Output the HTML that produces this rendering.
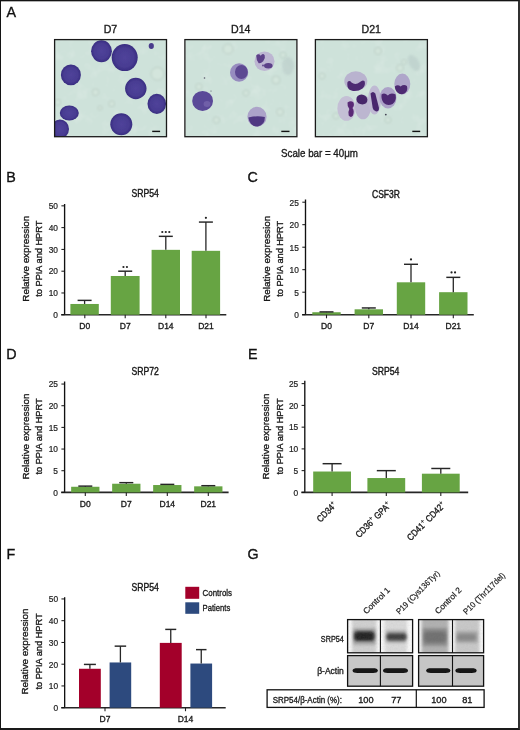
<!DOCTYPE html>
<html><head><meta charset="utf-8"><style>
html,body{margin:0;padding:0;background:#fff;}
body{width:520px;height:730px;overflow:hidden;position:relative;}
svg{position:absolute;left:0;top:0;will-change:transform;}
text{font-family:"Liberation Sans",sans-serif;}
.frame{position:absolute;left:0;top:0;width:520px;height:730px;box-sizing:border-box;border-top:1px solid #141414;border-left:1px solid #141414;border-right:2px solid #303030;border-bottom:2px solid #1a1a1a;}
</style></head><body>
<svg width="520" height="730" viewBox="0 0 520 730">
<text x="6.5" y="16.5" font-size="14.3" text-anchor="start" fill="#111" stroke="#111" stroke-width="0.34" >A</text>
<text x="6.3" y="181.6" font-size="14.3" text-anchor="start" fill="#111" stroke="#111" stroke-width="0.34" >B</text>
<text x="247.5" y="181.7" font-size="14.3" text-anchor="start" fill="#111" stroke="#111" stroke-width="0.34" >C</text>
<text x="6.2" y="358.8" font-size="14.3" text-anchor="start" fill="#111" stroke="#111" stroke-width="0.34" >D</text>
<text x="248" y="359.0" font-size="14.3" text-anchor="start" fill="#111" stroke="#111" stroke-width="0.34" >E</text>
<text x="6.5" y="558.9" font-size="14.3" text-anchor="start" fill="#111" stroke="#111" stroke-width="0.34" >F</text>
<text x="247.5" y="559.0" font-size="14.3" text-anchor="start" fill="#111" stroke="#111" stroke-width="0.34" >G</text>
<text x="110.5" y="32.7" font-size="10.6" text-anchor="middle" fill="#1a1a1a" stroke="#1a1a1a" stroke-width="0.34" >D7</text>
<text x="240.8" y="32.7" font-size="10.6" text-anchor="middle" fill="#1a1a1a" stroke="#1a1a1a" stroke-width="0.34" >D14</text>
<text x="371.3" y="32.7" font-size="10.6" text-anchor="middle" fill="#1a1a1a" stroke="#1a1a1a" stroke-width="0.34" >D21</text>
<text x="319.5" y="157" font-size="10.6" text-anchor="middle" fill="#1a1a1a" stroke="#1a1a1a" stroke-width="0.34" textLength="77" lengthAdjust="spacingAndGlyphs" >Scale bar = 40&#956;m</text>

<defs>
<filter id="soft" x="-20%" y="-20%" width="140%" height="140%"><feGaussianBlur stdDeviation="0.6"/></filter>
<filter id="soft2" x="-20%" y="-20%" width="140%" height="140%"><feGaussianBlur stdDeviation="1.1"/></filter>
<radialGradient id="cellD" cx="50%" cy="50%" r="50%">
 <stop offset="0" stop-color="#50439a"/><stop offset="0.7" stop-color="#483c92"/><stop offset="0.92" stop-color="#3d3186"/><stop offset="1" stop-color="#372b7e"/>
</radialGradient>
<radialGradient id="cyto" cx="50%" cy="50%" r="50%">
 <stop offset="0" stop-color="#aa9dca"/><stop offset="0.8" stop-color="#a091c4"/><stop offset="1" stop-color="#8f7fb8"/>
</radialGradient>
<radialGradient id="ghost" cx="50%" cy="50%" r="50%">
 <stop offset="0" stop-color="#bccfc6"/><stop offset="0.55" stop-color="#c6d9d0"/><stop offset="0.8" stop-color="#b8cbc3"/><stop offset="1" stop-color="#cee2da" stop-opacity="0"/>
</radialGradient>
<filter id="tex" x="0" y="0" width="100%" height="100%"><feTurbulence type="fractalNoise" baseFrequency="0.08" numOctaves="3" seed="7"/><feColorMatrix type="matrix" values="0 0 0 0 1  0 0 0 0 1  0 0 0 0 1  0 0 0 1.1 -0.55"/><feComposite in2="SourceGraphic" operator="in"/></filter>
<clipPath id="c1"><rect x="55" y="40" width="111.5" height="96.5"/></clipPath>
<clipPath id="c2"><rect x="185.3" y="40" width="111.2" height="96.5"/></clipPath>
<clipPath id="c3"><rect x="315.8" y="40" width="111.2" height="96.5"/></clipPath>
</defs>

<g clip-path="url(#c1)">
<rect x="55" y="40" width="111.5" height="96.5" fill="#cee2da" />
<rect x="55" y="40" width="111.5" height="96.5" fill="#fff" filter="url(#tex)" opacity="0.35"/>
<circle cx="95.5" cy="92.3" r="3.4" fill="#d3e5dc" stroke="#bacdc4" stroke-width="1" filter="url(#soft2)"/>
<circle cx="57.8" cy="102.3" r="3" fill="#d3e5dc" stroke="#bacdc4" stroke-width="1" filter="url(#soft2)"/>
<circle cx="157.5" cy="73.8" r="6.5" fill="#d3e5dc" stroke="#bacdc4" stroke-width="1" filter="url(#soft2)"/>
<circle cx="111.7" cy="103.8" r="3" fill="#d3e5dc" stroke="#bacdc4" stroke-width="1" filter="url(#soft2)"/>
<circle cx="100" cy="108" r="2.2" fill="#d3e5dc" stroke="#bacdc4" stroke-width="1" filter="url(#soft2)"/>
<g filter="url(#soft)">
<ellipse cx="101.5" cy="51.2" rx="10.4" ry="11" fill="url(#cellD)"/>
<ellipse cx="124.7" cy="57.6" rx="13" ry="13.5" fill="url(#cellD)"/>
<ellipse cx="70.9" cy="74.9" rx="10" ry="10.3" fill="url(#cellD)"/>
<ellipse cx="135.8" cy="88.5" rx="10.7" ry="10.7" fill="url(#cellD)"/>
<ellipse cx="156.8" cy="103.8" rx="9.3" ry="10.1" fill="url(#cellD)"/>
<ellipse cx="69.3" cy="113" rx="9.5" ry="7.6" fill="url(#cellD)"/>
<ellipse cx="60" cy="129" rx="9" ry="9.5" fill="url(#cellD)"/>
<ellipse cx="121.3" cy="124.3" rx="11" ry="11" fill="url(#cellD)"/>
<ellipse cx="151.3" cy="46" rx="2.6" ry="2.9" fill="#4a3a8c"/>
</g>
<rect x="152.2" y="130.7" width="7.9" height="1.4" fill="#111" />
</g>
<rect x="54.6" y="39.6" width="111.9" height="97.1" fill="none" stroke="#1a1a1a" stroke-width="1.3"/>
<g clip-path="url(#c2)">
<rect x="185.3" y="40" width="111.2" height="96.5" fill="#cee2da" />
<rect x="185.3" y="40" width="111.2" height="96.5" fill="#fff" filter="url(#tex)" opacity="0.35"/>
<circle cx="198.9" cy="86.7" r="3.2" fill="#d3e5dc" stroke="#bacdc4" stroke-width="1" filter="url(#soft2)"/>
<circle cx="216.4" cy="120.1" r="3.2" fill="#d3e5dc" stroke="#bacdc4" stroke-width="1" filter="url(#soft2)"/>
<circle cx="246" cy="93" r="3" fill="#d3e5dc" stroke="#bacdc4" stroke-width="1" filter="url(#soft2)"/>
<circle cx="276" cy="80" r="4" fill="#d3e5dc" stroke="#bacdc4" stroke-width="1" filter="url(#soft2)"/>
<circle cx="280" cy="112" r="3.5" fill="#d3e5dc" stroke="#bacdc4" stroke-width="1" filter="url(#soft2)"/>
<circle cx="228" cy="49" r="5" fill="#d3e5dc" stroke="#bacdc4" stroke-width="1" filter="url(#soft2)"/>
<circle cx="283" cy="55" r="3" fill="#d3e5dc" stroke="#bacdc4" stroke-width="1" filter="url(#soft2)"/>
<ellipse cx="288" cy="66" rx="6" ry="9" fill="#bccfcb" opacity="0.7" filter="url(#soft2)"/>
<g filter="url(#soft)">
<ellipse cx="239.1" cy="72.5" rx="9.1" ry="9.3" fill="#978cbf"/>
<ellipse cx="241.4" cy="72.0" rx="6.4" ry="6.9" fill="#5d4892"/>
<ellipse cx="264.5" cy="61.2" rx="10" ry="9.8" fill="#bdb6d2"/>
<path d="M256.2 55.5 q2.5 -2.5 4.5 0.2 q2 -3 4 -0.5 q1 3 -1.5 6 q-2.5 2.5 -4.5 2 q-2.5 -3 -2.5 -7.7 z" fill="#5b3f88"/>
<ellipse cx="268.3" cy="65.8" rx="4.3" ry="2.7" fill="#5b3f88"/>
<circle cx="263" cy="65.5" r="0.9" fill="#5b3f88"/>
<ellipse cx="202.6" cy="100.9" rx="10.4" ry="10" fill="#5a4898"/>
<ellipse cx="207" cy="104" rx="3.5" ry="3" fill="#7464ac" opacity="0.8"/>
<ellipse cx="257" cy="116.7" rx="9.6" ry="10" fill="#aca3c9"/>
<path d="M248.3 117.5 q8 -2 16.6 -0.5 q0 8 -7 9.5 q-8 0.5 -9.6 -9 z" fill="#4f3782"/>
</g>
<circle cx="204.5" cy="78" r="0.8" fill="#556"/><circle cx="211" cy="91" r="0.6" fill="#556"/>
<rect x="281.3" y="130.7" width="8.2" height="1.4" fill="#111" />
</g>
<rect x="184.9" y="39.6" width="112" height="97.1" fill="none" stroke="#1a1a1a" stroke-width="1.3"/>
<g clip-path="url(#c3)">
<rect x="315.8" y="40" width="111.2" height="96.5" fill="#cee2da" />
<rect x="315.8" y="40" width="111.2" height="96.5" fill="#fff" filter="url(#tex)" opacity="0.35"/>
<circle cx="322" cy="76" r="3" fill="#d3e5dc" stroke="#bacdc4" stroke-width="1" filter="url(#soft2)"/>
<circle cx="378" cy="51" r="3.5" fill="#d3e5dc" stroke="#bacdc4" stroke-width="1" filter="url(#soft2)"/>
<circle cx="400" cy="68" r="3.5" fill="#d3e5dc" stroke="#bacdc4" stroke-width="1" filter="url(#soft2)"/>
<circle cx="336" cy="116" r="3" fill="#d3e5dc" stroke="#bacdc4" stroke-width="1" filter="url(#soft2)"/>
<circle cx="388" cy="120" r="3" fill="#d3e5dc" stroke="#bacdc4" stroke-width="1" filter="url(#soft2)"/>
<circle cx="404" cy="62" r="2.5" fill="#d3e5dc" stroke="#bacdc4" stroke-width="1" filter="url(#soft2)"/>
<ellipse cx="414" cy="63" rx="5" ry="9" fill="#bccfcb" opacity="0.7" filter="url(#soft2)" transform="rotate(-30 414 63)"/>
<g filter="url(#soft)">
<ellipse cx="355.8" cy="81" rx="11.5" ry="9.7" fill="#b9b3cf"/>
<ellipse cx="402.3" cy="84" rx="8" ry="10.4" fill="#afa6ca"/>
<ellipse cx="346.5" cy="108.4" rx="9.2" ry="12.4" fill="#c4bfd5"/>
<ellipse cx="363" cy="107" rx="8" ry="12.3" fill="#bcb6d0"/>
<ellipse cx="374.5" cy="100" rx="6.5" ry="14.5" fill="#bfb9d3"/>
<ellipse cx="388" cy="97.7" rx="8.5" ry="10.7" fill="#aca2c8"/>
<path d="M347.5 82 q2 -2 4 0.5 q4 3 8.5 -0.5 q2.5 -2.5 4.5 -1 q1.5 4 -2 7.5 q-4 3 -9.5 2.5 q-5 -1 -5.5 -4.5 q-0.5 -2.5 0 -4.5 z" fill="#4e2a72"/>
<path d="M394.8 86.5 q3 -2.5 5.8 0 q3.2 -2.5 6.3 -0.5 q1.5 4.5 -2 7.3 q-3 1.7 -5.7 0.5 q-4 -2.2 -4.4 -7.3 z" fill="#4e2a72"/>
<path d="M347.5 102.5 q3.5 -2.5 6 0 q1.2 3.2 -1 5.5 q2.2 3 0.5 7.5 q-2 2.8 -4.3 0 q-1 -3.3 0.6 -6.5 q-2.2 -3 -1.8 -6.5 z" fill="#5a2a76"/>
<ellipse cx="361.9" cy="99.5" rx="5.6" ry="4.9" fill="#46266a" transform="rotate(20 361.9 99.5)"/>
<path d="M370.5 93.5 q2.5 -3 4.8 0 l3.6 14 q0.6 4 -2.8 4 q-2.8 -0.5 -3.4 -3.4 z" fill="#48286e"/>
<path d="M381.5 94.5 q3 -2.5 6.3 1 q3 -3.2 7.8 -1 q1.2 6.5 -3 9.6 q-5.2 2.2 -8.8 -1 q-2.8 -3.2 -2.3 -8.6 z" fill="#4e2a72"/>
</g>
<circle cx="385.8" cy="114.6" r="0.9" fill="#445"/>
<rect x="412.3" y="130.7" width="7.9" height="1.4" fill="#111" />
</g>
<rect x="315.4" y="39.6" width="112" height="97.1" fill="none" stroke="#1a1a1a" stroke-width="1.3"/>
<line x1="64.6" y1="204" x2="64.6" y2="314.75" stroke="#111" stroke-width="1.35"/>
<line x1="61.199999999999996" y1="314.75" x2="226.3" y2="314.75" stroke="#262626" stroke-width="1.6"/>
<line x1="61.39999999999999" y1="314.75" x2="64.6" y2="314.75" stroke="#111" stroke-width="1.0"/>
<g transform="translate(57.99999999999999,318.05) scale(0.9,1)">
<text x="0" y="0" font-size="9.3" text-anchor="end" fill="#222" stroke="#222" stroke-width="0.22" >0</text>
</g>
<line x1="61.39999999999999" y1="292.97" x2="64.6" y2="292.97" stroke="#111" stroke-width="1.0"/>
<g transform="translate(57.99999999999999,296.27000000000004) scale(0.9,1)">
<text x="0" y="0" font-size="9.3" text-anchor="end" fill="#222" stroke="#222" stroke-width="0.22" >10</text>
</g>
<line x1="61.39999999999999" y1="271.19" x2="64.6" y2="271.19" stroke="#111" stroke-width="1.0"/>
<g transform="translate(57.99999999999999,274.49) scale(0.9,1)">
<text x="0" y="0" font-size="9.3" text-anchor="end" fill="#222" stroke="#222" stroke-width="0.22" >20</text>
</g>
<line x1="61.39999999999999" y1="249.41" x2="64.6" y2="249.41" stroke="#111" stroke-width="1.0"/>
<g transform="translate(57.99999999999999,252.71) scale(0.9,1)">
<text x="0" y="0" font-size="9.3" text-anchor="end" fill="#222" stroke="#222" stroke-width="0.22" >30</text>
</g>
<line x1="61.39999999999999" y1="227.63" x2="64.6" y2="227.63" stroke="#111" stroke-width="1.0"/>
<g transform="translate(57.99999999999999,230.93) scale(0.9,1)">
<text x="0" y="0" font-size="9.3" text-anchor="end" fill="#222" stroke="#222" stroke-width="0.22" >40</text>
</g>
<line x1="61.39999999999999" y1="205.85000000000002" x2="64.6" y2="205.85000000000002" stroke="#111" stroke-width="1.0"/>
<g transform="translate(57.99999999999999,209.15000000000003) scale(0.9,1)">
<text x="0" y="0" font-size="9.3" text-anchor="end" fill="#222" stroke="#222" stroke-width="0.22" >50</text>
</g>
<rect x="70.39999999999999" y="303.9689" width="28.4" height="10.78109999999998" fill="#67a443" />
<line x1="84.6" y1="300.3752" x2="84.6" y2="303.9689" stroke="#262626" stroke-width="1.3"/>
<line x1="77.6" y1="300.3752" x2="91.6" y2="300.3752" stroke="#262626" stroke-width="1.45"/>
<rect x="110.8" y="275.9816" width="28.8" height="38.768399999999986" fill="#67a443" />
<line x1="125.2" y1="271.19" x2="125.2" y2="275.9816" stroke="#262626" stroke-width="1.3"/>
<line x1="118.2" y1="271.19" x2="132.2" y2="271.19" stroke="#262626" stroke-width="1.45"/>
<rect x="151.60000000000002" y="249.8456" width="28.4" height="64.90440000000001" fill="#67a443" />
<line x1="165.8" y1="236.34199999999998" x2="165.8" y2="249.8456" stroke="#262626" stroke-width="1.3"/>
<line x1="158.8" y1="236.34199999999998" x2="172.8" y2="236.34199999999998" stroke="#262626" stroke-width="1.45"/>
<rect x="191.70000000000002" y="250.82569999999998" width="28.4" height="63.92430000000002" fill="#67a443" />
<line x1="205.9" y1="222.0761" x2="205.9" y2="250.82569999999998" stroke="#262626" stroke-width="1.3"/>
<line x1="198.9" y1="222.0761" x2="212.9" y2="222.0761" stroke="#262626" stroke-width="1.45"/>
<text x="145.2" y="197.3" font-size="10.3" text-anchor="middle" fill="#1a1a1a" stroke="#1a1a1a" stroke-width="0.42" textLength="27.4" lengthAdjust="spacingAndGlyphs" >SRP54</text>
<line x1="84.8" y1="314.75" x2="84.8" y2="318.3" stroke="#222" stroke-width="1.1"/>
<text x="84.8" y="329.2" font-size="8.5" text-anchor="middle" fill="#1a1a1a" stroke="#1a1a1a" stroke-width="0.34" >D0</text>
<line x1="125.2" y1="314.75" x2="125.2" y2="318.3" stroke="#222" stroke-width="1.1"/>
<text x="125.2" y="329.2" font-size="8.5" text-anchor="middle" fill="#1a1a1a" stroke="#1a1a1a" stroke-width="0.34" >D7</text>
<line x1="165.8" y1="314.75" x2="165.8" y2="318.3" stroke="#222" stroke-width="1.1"/>
<text x="165.8" y="329.2" font-size="8.5" text-anchor="middle" fill="#1a1a1a" stroke="#1a1a1a" stroke-width="0.34" >D14</text>
<line x1="206" y1="314.75" x2="206" y2="318.3" stroke="#222" stroke-width="1.1"/>
<text x="206" y="329.2" font-size="8.5" text-anchor="middle" fill="#1a1a1a" stroke="#1a1a1a" stroke-width="0.34" >D21</text>
<circle cx="123.45" cy="267.0" r="1.1" fill="#222"/>
<circle cx="126.95" cy="267.0" r="1.1" fill="#222"/>
<circle cx="162.30" cy="232.0" r="1.1" fill="#222"/>
<circle cx="165.80" cy="232.0" r="1.1" fill="#222"/>
<circle cx="169.30" cy="232.0" r="1.1" fill="#222"/>
<circle cx="205.90" cy="217.8" r="1.1" fill="#222"/>
<g transform="translate(28.599999999999998,258.7) rotate(-90)">
<text x="0" y="0" font-size="9.6" text-anchor="middle" fill="#1a1a1a" stroke="#1a1a1a" stroke-width="0.34" textLength="86" lengthAdjust="spacingAndGlyphs" >Relative expression</text>
<text x="0" y="13.3" font-size="9.6" text-anchor="middle" fill="#1a1a1a" stroke="#1a1a1a" stroke-width="0.34" textLength="76" lengthAdjust="spacingAndGlyphs" >to PPIA and HPRT</text>
</g>
<line x1="305.5" y1="199.5" x2="305.5" y2="314.7" stroke="#111" stroke-width="1.35"/>
<line x1="302.1" y1="314.7" x2="473.8" y2="314.7" stroke="#262626" stroke-width="1.6"/>
<line x1="302.3" y1="314.7" x2="305.5" y2="314.7" stroke="#111" stroke-width="1.0"/>
<g transform="translate(298.9,318.0) scale(0.9,1)">
<text x="0" y="0" font-size="9.3" text-anchor="end" fill="#222" stroke="#222" stroke-width="0.22" >0</text>
</g>
<line x1="302.3" y1="292.2" x2="305.5" y2="292.2" stroke="#111" stroke-width="1.0"/>
<g transform="translate(298.9,295.5) scale(0.9,1)">
<text x="0" y="0" font-size="9.3" text-anchor="end" fill="#222" stroke="#222" stroke-width="0.22" >5</text>
</g>
<line x1="302.3" y1="269.7" x2="305.5" y2="269.7" stroke="#111" stroke-width="1.0"/>
<g transform="translate(298.9,273.0) scale(0.9,1)">
<text x="0" y="0" font-size="9.3" text-anchor="end" fill="#222" stroke="#222" stroke-width="0.22" >10</text>
</g>
<line x1="302.3" y1="247.2" x2="305.5" y2="247.2" stroke="#111" stroke-width="1.0"/>
<g transform="translate(298.9,250.5) scale(0.9,1)">
<text x="0" y="0" font-size="9.3" text-anchor="end" fill="#222" stroke="#222" stroke-width="0.22" >15</text>
</g>
<line x1="302.3" y1="224.7" x2="305.5" y2="224.7" stroke="#111" stroke-width="1.0"/>
<g transform="translate(298.9,228.0) scale(0.9,1)">
<text x="0" y="0" font-size="9.3" text-anchor="end" fill="#222" stroke="#222" stroke-width="0.22" >20</text>
</g>
<line x1="302.3" y1="202.2" x2="305.5" y2="202.2" stroke="#111" stroke-width="1.0"/>
<g transform="translate(298.9,205.5) scale(0.9,1)">
<text x="0" y="0" font-size="9.3" text-anchor="end" fill="#222" stroke="#222" stroke-width="0.22" >25</text>
</g>
<rect x="312.3" y="312.22499999999997" width="28.4" height="2.4750000000000227" fill="#67a443" />
<line x1="326.5" y1="311.90999999999997" x2="326.5" y2="312.22499999999997" stroke="#262626" stroke-width="1.3"/>
<line x1="319.5" y1="311.90999999999997" x2="333.5" y2="311.90999999999997" stroke="#262626" stroke-width="1.45"/>
<rect x="354.6" y="309.3" width="28.4" height="5.399999999999977" fill="#67a443" />
<line x1="368.8" y1="307.95" x2="368.8" y2="309.3" stroke="#262626" stroke-width="1.3"/>
<line x1="361.8" y1="307.95" x2="375.8" y2="307.95" stroke="#262626" stroke-width="1.45"/>
<rect x="396.8" y="282.3" width="28.4" height="32.39999999999998" fill="#67a443" />
<line x1="411" y1="264.3" x2="411" y2="282.3" stroke="#262626" stroke-width="1.3"/>
<line x1="404.0" y1="264.3" x2="418.0" y2="264.3" stroke="#262626" stroke-width="1.45"/>
<rect x="439.1" y="292.2" width="28.4" height="22.5" fill="#67a443" />
<line x1="453.3" y1="277.34999999999997" x2="453.3" y2="292.2" stroke="#262626" stroke-width="1.3"/>
<line x1="446.3" y1="277.34999999999997" x2="460.3" y2="277.34999999999997" stroke="#262626" stroke-width="1.45"/>
<text x="386" y="198" font-size="10.3" text-anchor="middle" fill="#1a1a1a" stroke="#1a1a1a" stroke-width="0.42" textLength="28" lengthAdjust="spacingAndGlyphs" >CSF3R</text>
<line x1="326.5" y1="314.7" x2="326.5" y2="318.3" stroke="#222" stroke-width="1.1"/>
<text x="326.5" y="329.2" font-size="8.5" text-anchor="middle" fill="#1a1a1a" stroke="#1a1a1a" stroke-width="0.34" >D0</text>
<line x1="368.8" y1="314.7" x2="368.8" y2="318.3" stroke="#222" stroke-width="1.1"/>
<text x="368.8" y="329.2" font-size="8.5" text-anchor="middle" fill="#1a1a1a" stroke="#1a1a1a" stroke-width="0.34" >D7</text>
<line x1="411" y1="314.7" x2="411" y2="318.3" stroke="#222" stroke-width="1.1"/>
<text x="411" y="329.2" font-size="8.5" text-anchor="middle" fill="#1a1a1a" stroke="#1a1a1a" stroke-width="0.34" >D14</text>
<line x1="453.3" y1="314.7" x2="453.3" y2="318.3" stroke="#222" stroke-width="1.1"/>
<text x="453.3" y="329.2" font-size="8.5" text-anchor="middle" fill="#1a1a1a" stroke="#1a1a1a" stroke-width="0.34" >D21</text>
<circle cx="411.00" cy="259.4" r="1.1" fill="#222"/>
<circle cx="451.55" cy="272.4" r="1.1" fill="#222"/>
<circle cx="455.05" cy="272.4" r="1.1" fill="#222"/>
<g transform="translate(269.59999999999997,258.8) rotate(-90)">
<text x="0" y="0" font-size="9.6" text-anchor="middle" fill="#1a1a1a" stroke="#1a1a1a" stroke-width="0.34" textLength="86" lengthAdjust="spacingAndGlyphs" >Relative expression</text>
<text x="0" y="13.3" font-size="9.6" text-anchor="middle" fill="#1a1a1a" stroke="#1a1a1a" stroke-width="0.34" textLength="76" lengthAdjust="spacingAndGlyphs" >to PPIA and HPRT</text>
</g>
<line x1="64.6" y1="381.5" x2="64.6" y2="492.4" stroke="#111" stroke-width="1.35"/>
<line x1="61.199999999999996" y1="492.4" x2="228.6" y2="492.4" stroke="#262626" stroke-width="1.6"/>
<line x1="61.39999999999999" y1="492.4" x2="64.6" y2="492.4" stroke="#111" stroke-width="1.0"/>
<g transform="translate(57.99999999999999,495.7) scale(0.9,1)">
<text x="0" y="0" font-size="9.3" text-anchor="end" fill="#222" stroke="#222" stroke-width="0.22" >0</text>
</g>
<line x1="61.39999999999999" y1="470.72999999999996" x2="64.6" y2="470.72999999999996" stroke="#111" stroke-width="1.0"/>
<g transform="translate(57.99999999999999,474.03) scale(0.9,1)">
<text x="0" y="0" font-size="9.3" text-anchor="end" fill="#222" stroke="#222" stroke-width="0.22" >5</text>
</g>
<line x1="61.39999999999999" y1="449.05999999999995" x2="64.6" y2="449.05999999999995" stroke="#111" stroke-width="1.0"/>
<g transform="translate(57.99999999999999,452.35999999999996) scale(0.9,1)">
<text x="0" y="0" font-size="9.3" text-anchor="end" fill="#222" stroke="#222" stroke-width="0.22" >10</text>
</g>
<line x1="61.39999999999999" y1="427.39" x2="64.6" y2="427.39" stroke="#111" stroke-width="1.0"/>
<g transform="translate(57.99999999999999,430.69) scale(0.9,1)">
<text x="0" y="0" font-size="9.3" text-anchor="end" fill="#222" stroke="#222" stroke-width="0.22" >15</text>
</g>
<line x1="61.39999999999999" y1="405.71999999999997" x2="64.6" y2="405.71999999999997" stroke="#111" stroke-width="1.0"/>
<g transform="translate(57.99999999999999,409.02) scale(0.9,1)">
<text x="0" y="0" font-size="9.3" text-anchor="end" fill="#222" stroke="#222" stroke-width="0.22" >20</text>
</g>
<line x1="61.39999999999999" y1="384.04999999999995" x2="64.6" y2="384.04999999999995" stroke="#111" stroke-width="1.0"/>
<g transform="translate(57.99999999999999,387.34999999999997) scale(0.9,1)">
<text x="0" y="0" font-size="9.3" text-anchor="end" fill="#222" stroke="#222" stroke-width="0.22" >25</text>
</g>
<rect x="71.14999999999999" y="486.76579999999996" width="28.3" height="5.634200000000021" fill="#67a443" />
<line x1="85.3" y1="486.1157" x2="85.3" y2="486.76579999999996" stroke="#262626" stroke-width="1.3"/>
<line x1="78.3" y1="486.1157" x2="92.3" y2="486.1157" stroke="#262626" stroke-width="1.45"/>
<rect x="112.14999999999999" y="483.73199999999997" width="28.3" height="8.668000000000006" fill="#67a443" />
<line x1="126.3" y1="482.64849999999996" x2="126.3" y2="483.73199999999997" stroke="#262626" stroke-width="1.3"/>
<line x1="119.3" y1="482.64849999999996" x2="133.3" y2="482.64849999999996" stroke="#262626" stroke-width="1.45"/>
<rect x="153.15" y="485.0322" width="28.3" height="7.367799999999988" fill="#67a443" />
<line x1="167.3" y1="484.3821" x2="167.3" y2="485.0322" stroke="#262626" stroke-width="1.3"/>
<line x1="160.3" y1="484.3821" x2="174.3" y2="484.3821" stroke="#262626" stroke-width="1.45"/>
<rect x="194.15" y="486.33239999999995" width="28.3" height="6.067600000000027" fill="#67a443" />
<line x1="208.3" y1="485.6823" x2="208.3" y2="486.33239999999995" stroke="#262626" stroke-width="1.3"/>
<line x1="201.3" y1="485.6823" x2="215.3" y2="485.6823" stroke="#262626" stroke-width="1.45"/>
<text x="145.2" y="375" font-size="10.3" text-anchor="middle" fill="#1a1a1a" stroke="#1a1a1a" stroke-width="0.42" textLength="27.4" lengthAdjust="spacingAndGlyphs" >SRP72</text>
<line x1="85.3" y1="492.4" x2="85.3" y2="495.9" stroke="#222" stroke-width="1.1"/>
<text x="85.3" y="507.3" font-size="8.5" text-anchor="middle" fill="#1a1a1a" stroke="#1a1a1a" stroke-width="0.34" >D0</text>
<line x1="126.3" y1="492.4" x2="126.3" y2="495.9" stroke="#222" stroke-width="1.1"/>
<text x="126.3" y="507.3" font-size="8.5" text-anchor="middle" fill="#1a1a1a" stroke="#1a1a1a" stroke-width="0.34" >D7</text>
<line x1="167.3" y1="492.4" x2="167.3" y2="495.9" stroke="#222" stroke-width="1.1"/>
<text x="167.3" y="507.3" font-size="8.5" text-anchor="middle" fill="#1a1a1a" stroke="#1a1a1a" stroke-width="0.34" >D14</text>
<line x1="208.3" y1="492.4" x2="208.3" y2="495.9" stroke="#222" stroke-width="1.1"/>
<text x="208.3" y="507.3" font-size="8.5" text-anchor="middle" fill="#1a1a1a" stroke="#1a1a1a" stroke-width="0.34" >D21</text>
<g transform="translate(28.599999999999998,436.5) rotate(-90)">
<text x="0" y="0" font-size="9.6" text-anchor="middle" fill="#1a1a1a" stroke="#1a1a1a" stroke-width="0.34" textLength="86" lengthAdjust="spacingAndGlyphs" >Relative expression</text>
<text x="0" y="13.3" font-size="9.6" text-anchor="middle" fill="#1a1a1a" stroke="#1a1a1a" stroke-width="0.34" textLength="76" lengthAdjust="spacingAndGlyphs" >to PPIA and HPRT</text>
</g>
<line x1="304.8" y1="380.8" x2="304.8" y2="492.4" stroke="#111" stroke-width="1.35"/>
<line x1="301.40000000000003" y1="492.4" x2="468.2" y2="492.4" stroke="#262626" stroke-width="1.6"/>
<line x1="301.6" y1="492.4" x2="304.8" y2="492.4" stroke="#111" stroke-width="1.0"/>
<g transform="translate(298.2,495.7) scale(0.9,1)">
<text x="0" y="0" font-size="9.3" text-anchor="end" fill="#222" stroke="#222" stroke-width="0.22" >0</text>
</g>
<line x1="301.6" y1="470.65" x2="304.8" y2="470.65" stroke="#111" stroke-width="1.0"/>
<g transform="translate(298.2,473.95) scale(0.9,1)">
<text x="0" y="0" font-size="9.3" text-anchor="end" fill="#222" stroke="#222" stroke-width="0.22" >5</text>
</g>
<line x1="301.6" y1="448.9" x2="304.8" y2="448.9" stroke="#111" stroke-width="1.0"/>
<g transform="translate(298.2,452.2) scale(0.9,1)">
<text x="0" y="0" font-size="9.3" text-anchor="end" fill="#222" stroke="#222" stroke-width="0.22" >10</text>
</g>
<line x1="301.6" y1="427.15" x2="304.8" y2="427.15" stroke="#111" stroke-width="1.0"/>
<g transform="translate(298.2,430.45) scale(0.9,1)">
<text x="0" y="0" font-size="9.3" text-anchor="end" fill="#222" stroke="#222" stroke-width="0.22" >15</text>
</g>
<line x1="301.6" y1="405.4" x2="304.8" y2="405.4" stroke="#111" stroke-width="1.0"/>
<g transform="translate(298.2,408.7) scale(0.9,1)">
<text x="0" y="0" font-size="9.3" text-anchor="end" fill="#222" stroke="#222" stroke-width="0.22" >20</text>
</g>
<line x1="301.6" y1="383.65" x2="304.8" y2="383.65" stroke="#111" stroke-width="1.0"/>
<g transform="translate(298.2,386.95) scale(0.9,1)">
<text x="0" y="0" font-size="9.3" text-anchor="end" fill="#222" stroke="#222" stroke-width="0.22" >25</text>
</g>
<rect x="313.20000000000005" y="471.52" width="37.8" height="20.879999999999995" fill="#67a443" />
<line x1="332.1" y1="463.69" x2="332.1" y2="471.52" stroke="#262626" stroke-width="1.3"/>
<line x1="322.6" y1="463.69" x2="341.6" y2="463.69" stroke="#262626" stroke-width="1.45"/>
<rect x="367.40000000000003" y="478.04499999999996" width="37.8" height="14.355000000000018" fill="#67a443" />
<line x1="386.3" y1="470.65" x2="386.3" y2="478.04499999999996" stroke="#262626" stroke-width="1.3"/>
<line x1="376.8" y1="470.65" x2="395.8" y2="470.65" stroke="#262626" stroke-width="1.45"/>
<rect x="421.90000000000003" y="473.695" width="37.8" height="18.704999999999984" fill="#67a443" />
<line x1="440.8" y1="468.47499999999997" x2="440.8" y2="473.695" stroke="#262626" stroke-width="1.3"/>
<line x1="431.3" y1="468.47499999999997" x2="450.3" y2="468.47499999999997" stroke="#262626" stroke-width="1.45"/>
<text x="385.6" y="375" font-size="10.3" text-anchor="middle" fill="#1a1a1a" stroke="#1a1a1a" stroke-width="0.42" textLength="27.4" lengthAdjust="spacingAndGlyphs" >SRP54</text>
<line x1="332.1" y1="492.4" x2="332.1" y2="495.9" stroke="#222" stroke-width="1.1"/>
<g transform="translate(335.3,503.6) rotate(-45) scale(0.86,1)">
<text x="0" y="3" font-size="9.3" text-anchor="end" fill="#1a1a1a" stroke="#1a1a1a" stroke-width="0.34" >CD34<tspan font-size="7" dy="-3.5" stroke-width="0.15">+</tspan></text>
</g>
<line x1="386.3" y1="492.4" x2="386.3" y2="495.9" stroke="#222" stroke-width="1.1"/>
<g transform="translate(389.5,503.6) rotate(-45) scale(0.86,1)">
<text x="0" y="3" font-size="9.3" text-anchor="end" fill="#1a1a1a" stroke="#1a1a1a" stroke-width="0.34" >CD36<tspan font-size="7" dy="-3.5" stroke-width="0.15">+</tspan><tspan dy="3.5"> GPA</tspan><tspan font-size="7" dy="-3.5" stroke-width="0.15">+</tspan></text>
</g>
<line x1="440.8" y1="492.4" x2="440.8" y2="495.9" stroke="#222" stroke-width="1.1"/>
<g transform="translate(444.0,503.6) rotate(-45) scale(0.86,1)">
<text x="0" y="3" font-size="9.3" text-anchor="end" fill="#1a1a1a" stroke="#1a1a1a" stroke-width="0.34" >CD41<tspan font-size="7" dy="-3.5" stroke-width="0.15">+</tspan><tspan dy="3.5"> CD42</tspan><tspan font-size="7" dy="-3.5" stroke-width="0.15">+</tspan></text>
</g>
<g transform="translate(269.4,436.5) rotate(-90)">
<text x="0" y="0" font-size="9.6" text-anchor="middle" fill="#1a1a1a" stroke="#1a1a1a" stroke-width="0.34" textLength="86" lengthAdjust="spacingAndGlyphs" >Relative expression</text>
<text x="0" y="13.3" font-size="9.6" text-anchor="middle" fill="#1a1a1a" stroke="#1a1a1a" stroke-width="0.34" textLength="76" lengthAdjust="spacingAndGlyphs" >to PPIA and HPRT</text>
</g>
<line x1="64.65" y1="597.2" x2="64.65" y2="707.7" stroke="#111" stroke-width="1.35"/>
<line x1="61.25000000000001" y1="707.7" x2="225.7" y2="707.7" stroke="#262626" stroke-width="1.6"/>
<line x1="61.45" y1="707.7" x2="64.65" y2="707.7" stroke="#111" stroke-width="1.0"/>
<g transform="translate(58.050000000000004,711.0) scale(0.9,1)">
<text x="0" y="0" font-size="9.3" text-anchor="end" fill="#222" stroke="#222" stroke-width="0.22" >0</text>
</g>
<line x1="61.45" y1="685.95" x2="64.65" y2="685.95" stroke="#111" stroke-width="1.0"/>
<g transform="translate(58.050000000000004,689.25) scale(0.9,1)">
<text x="0" y="0" font-size="9.3" text-anchor="end" fill="#222" stroke="#222" stroke-width="0.22" >10</text>
</g>
<line x1="61.45" y1="664.2" x2="64.65" y2="664.2" stroke="#111" stroke-width="1.0"/>
<g transform="translate(58.050000000000004,667.5) scale(0.9,1)">
<text x="0" y="0" font-size="9.3" text-anchor="end" fill="#222" stroke="#222" stroke-width="0.22" >20</text>
</g>
<line x1="61.45" y1="642.45" x2="64.65" y2="642.45" stroke="#111" stroke-width="1.0"/>
<g transform="translate(58.050000000000004,645.75) scale(0.9,1)">
<text x="0" y="0" font-size="9.3" text-anchor="end" fill="#222" stroke="#222" stroke-width="0.22" >30</text>
</g>
<line x1="61.45" y1="620.7" x2="64.65" y2="620.7" stroke="#111" stroke-width="1.0"/>
<g transform="translate(58.050000000000004,624.0) scale(0.9,1)">
<text x="0" y="0" font-size="9.3" text-anchor="end" fill="#222" stroke="#222" stroke-width="0.22" >40</text>
</g>
<line x1="61.45" y1="598.95" x2="64.65" y2="598.95" stroke="#111" stroke-width="1.0"/>
<g transform="translate(58.050000000000004,602.25) scale(0.9,1)">
<text x="0" y="0" font-size="9.3" text-anchor="end" fill="#222" stroke="#222" stroke-width="0.22" >50</text>
</g>
<rect x="79.0" y="668.7675" width="21.8" height="38.932500000000005" fill="#a3002a" />
<line x1="89.9" y1="664.4175" x2="89.9" y2="668.7675" stroke="#262626" stroke-width="1.3"/>
<line x1="83.9" y1="664.4175" x2="95.9" y2="664.4175" stroke="#262626" stroke-width="1.45"/>
<rect x="109.60000000000001" y="662.46" width="21.6" height="45.24000000000001" fill="#2d4a7e" />
<line x1="120.4" y1="646.1475" x2="120.4" y2="662.46" stroke="#262626" stroke-width="1.3"/>
<line x1="114.65" y1="646.1475" x2="126.15" y2="646.1475" stroke="#262626" stroke-width="1.45"/>
<rect x="159.8" y="642.885" width="21.9" height="64.81500000000005" fill="#a3002a" />
<line x1="170.75" y1="629.4000000000001" x2="170.75" y2="642.885" stroke="#262626" stroke-width="1.3"/>
<line x1="165.25" y1="629.4000000000001" x2="176.25" y2="629.4000000000001" stroke="#262626" stroke-width="1.45"/>
<rect x="190.4" y="663.5475" width="21.7" height="44.15250000000003" fill="#2d4a7e" />
<line x1="201.25" y1="649.6275" x2="201.25" y2="663.5475" stroke="#262626" stroke-width="1.3"/>
<line x1="196.0" y1="649.6275" x2="206.5" y2="649.6275" stroke="#262626" stroke-width="1.45"/>
<text x="145.2" y="591" font-size="10.3" text-anchor="middle" fill="#1a1a1a" stroke="#1a1a1a" stroke-width="0.42" textLength="27.4" lengthAdjust="spacingAndGlyphs" >SRP54</text>
<line x1="105" y1="707.7" x2="105" y2="711.2" stroke="#222" stroke-width="1.1"/>
<text x="105" y="722.2" font-size="8.5" text-anchor="middle" fill="#1a1a1a" stroke="#1a1a1a" stroke-width="0.34" >D7</text>
<line x1="185.5" y1="707.7" x2="185.5" y2="711.2" stroke="#222" stroke-width="1.1"/>
<text x="185.5" y="722.2" font-size="8.5" text-anchor="middle" fill="#1a1a1a" stroke="#1a1a1a" stroke-width="0.34" >D14</text>
<rect x="185.3" y="586.8" width="13.9" height="12" fill="#a3002a" />
<rect x="185.3" y="602.3" width="13.9" height="11.5" fill="#2d4a7e" />
<text x="202.6" y="596.3" font-size="9.4" text-anchor="start" fill="#1a1a1a" stroke="#1a1a1a" stroke-width="0.34" textLength="29.4" lengthAdjust="spacingAndGlyphs" >Controls</text>
<text x="202.6" y="611.0" font-size="9.4" text-anchor="start" fill="#1a1a1a" stroke="#1a1a1a" stroke-width="0.34" textLength="27.7" lengthAdjust="spacingAndGlyphs" >Patients</text>
<g transform="translate(28.4,651.5) rotate(-90)">
<text x="0" y="0" font-size="9.6" text-anchor="middle" fill="#1a1a1a" stroke="#1a1a1a" stroke-width="0.34" textLength="86" lengthAdjust="spacingAndGlyphs" >Relative expression</text>
<text x="0" y="13.3" font-size="9.6" text-anchor="middle" fill="#1a1a1a" stroke="#1a1a1a" stroke-width="0.34" textLength="76" lengthAdjust="spacingAndGlyphs" >to PPIA and HPRT</text>
</g>
<g transform="translate(366.6,614.6) rotate(-45) scale(1,1)">
<text x="0" y="0" font-size="8.3" text-anchor="start" fill="#1a1a1a" stroke="#1a1a1a" stroke-width="0.2" >Control 1</text>
</g>
<g transform="translate(399.4,614.8) rotate(-45) scale(0.93,1)">
<text x="0" y="0" font-size="8.3" text-anchor="start" fill="#1a1a1a" stroke="#1a1a1a" stroke-width="0.2" >P19 (Cys136Tyr)</text>
</g>
<g transform="translate(438.2,614.6) rotate(-45) scale(1,1)">
<text x="0" y="0" font-size="8.3" text-anchor="start" fill="#1a1a1a" stroke="#1a1a1a" stroke-width="0.2" >Control 2</text>
</g>
<g transform="translate(466.6,615.0) rotate(-45) scale(0.93,1)">
<text x="0" y="0" font-size="8.3" text-anchor="start" fill="#1a1a1a" stroke="#1a1a1a" stroke-width="0.2" >P10 (Thr117del)</text>
</g>
<defs>
<filter id="bl" x="-30%" y="-60%" width="160%" height="220%"><feGaussianBlur stdDeviation="1.6"/></filter>
<filter id="bl2" x="-30%" y="-100%" width="160%" height="300%"><feGaussianBlur stdDeviation="0.55"/></filter>
<filter id="bl3" x="-30%" y="-100%" width="160%" height="300%"><feGaussianBlur stdDeviation="1.6"/></filter>
<filter id="noise" x="0" y="0" width="100%" height="100%"><feTurbulence type="fractalNoise" baseFrequency="0.6" numOctaves="2" seed="3"/><feColorMatrix type="matrix" values="0 0 0 0 0.3  0 0 0 0 0.3  0 0 0 0 0.3  0 0 0 0.35 -0.05"/><feComposite in2="SourceGraphic" operator="in"/></filter>
</defs>
<clipPath id="blc"><rect x="348" y="620" width="64.5" height="32.5"/><rect x="419" y="620" width="64.5" height="32.5"/></clipPath>
<g clip-path="url(#blc)">
<rect x="348" y="620" width="64.5" height="32.5" fill="#fafafa" />
<rect x="419" y="620" width="64.5" height="32.5" fill="#fafafa" />
<g filter="url(#bl)">
<rect x="352" y="618" width="24.5" height="37" fill="#d2d2d2"/>
<rect x="384.5" y="618" width="22.5" height="37" fill="#dcdcdc"/>
<rect x="421.5" y="618" width="27" height="37" fill="#b2b2b2"/>
<rect x="455" y="618" width="24.5" height="37" fill="#cacaca"/>
<rect x="353" y="628" width="23" height="17" fill="#a8a8a8"/>
<rect x="385.5" y="630" width="21" height="13" fill="#b4b4b4"/>
<rect x="422.5" y="628" width="25" height="18" fill="#8c8c8c"/>
<rect x="456" y="631" width="22" height="12" fill="#a8a8a8"/>
</g>
<g filter="url(#bl3)">
<rect x="354" y="631.3" width="20.5" height="9.8" rx="3.5" fill="#222"/>
<rect x="386.5" y="633.2" width="20" height="7.3" rx="3" fill="#3e3e3e"/>
<rect x="424" y="631.5" width="22" height="11" rx="4" fill="#707070"/>
<rect x="457" y="634" width="19" height="6.5" rx="3" fill="#888"/>
</g>
<rect x="348" y="620" width="135.5" height="32.5" filter="url(#noise)" opacity="0.45"/>
</g>
<rect x="348" y="656" width="64.5" height="30" fill="#c8c8c8" />
<rect x="419" y="656" width="64.5" height="30" fill="#c6c6c6" />
<g filter="url(#bl2)">
<path d="M352.6,670.6 C352.6,668.7 354.6,668.15 357.6,668.15 L372.8,668.15 C375.8,668.15 377.8,668.7 377.8,670.6 C377.8,672.5 375.8,673.0500000000001 372.8,673.0500000000001 L357.6,673.0500000000001 C354.6,673.0500000000001 352.6,672.5 352.6,670.6 Z" fill="#121212"/>
<path d="M383,670.6 C383,668.7 385,668.15 388,668.15 L403,668.15 C406,668.15 408,668.7 408,670.6 C408,672.5 406,673.0500000000001 403,673.0500000000001 L388,673.0500000000001 C385,673.0500000000001 383,672.5 383,670.6 Z" fill="#121212"/>
<path d="M426.2,670.6 C426.2,668.7 428.2,668.15 431.2,668.15 L445.3,668.15 C448.3,668.15 450.3,668.7 450.3,670.6 C450.3,672.5 448.3,673.0500000000001 445.3,673.0500000000001 L431.2,673.0500000000001 C428.2,673.0500000000001 426.2,672.5 426.2,670.6 Z" fill="#121212"/>
<path d="M455.4,670.6 C455.4,668.7 457.4,668.15 460.4,668.15 L471.6,668.15 C474.6,668.15 476.6,668.7 476.6,670.6 C476.6,672.5 474.6,673.0500000000001 471.6,673.0500000000001 L460.4,673.0500000000001 C457.4,673.0500000000001 455.4,672.5 455.4,670.6 Z" fill="#121212"/>
</g>
<rect x="347.6" y="619.6" width="65" height="33.2" fill="none" stroke="#111" stroke-width="1.3"/>
<rect x="347.6" y="655.6" width="65" height="30.6" fill="none" stroke="#111" stroke-width="1.3"/>
<rect x="418.6" y="619.6" width="65" height="33.2" fill="none" stroke="#111" stroke-width="1.3"/>
<rect x="418.6" y="655.6" width="65" height="30.6" fill="none" stroke="#111" stroke-width="1.3"/>
<line x1="380.4" y1="619.6" x2="380.4" y2="652.8" stroke="#111" stroke-width="1.1"/>
<line x1="380.4" y1="655.6" x2="380.4" y2="686.2" stroke="#111" stroke-width="1.1"/>
<line x1="452.5" y1="619.6" x2="452.5" y2="652.8" stroke="#111" stroke-width="1.1"/>
<line x1="452.5" y1="655.6" x2="452.5" y2="686.2" stroke="#111" stroke-width="1.1"/>
<text x="343.8" y="642.1" font-size="9.2" text-anchor="end" fill="#1a1a1a" stroke="#1a1a1a" stroke-width="0.34" textLength="23" lengthAdjust="spacingAndGlyphs" >SRP54</text>
<text x="343.8" y="673.6" font-size="9.4" text-anchor="end" fill="#1a1a1a" stroke="#1a1a1a" stroke-width="0.34" textLength="26.6" lengthAdjust="spacingAndGlyphs" >&#946;-Actin</text>
<rect x="267.1" y="689.8" width="217" height="17.6" fill="none" stroke="#111" stroke-width="1.3"/>
<line x1="416.3" y1="689.8" x2="416.3" y2="707.4" stroke="#111" stroke-width="1.2"/>
<text x="272.7" y="702.6" font-size="9.2" text-anchor="start" fill="#1a1a1a" stroke="#1a1a1a" stroke-width="0.34" textLength="69.2" lengthAdjust="spacingAndGlyphs" >SRP54/&#946;-Actin (%):</text>
<text x="365.9" y="702.6" font-size="9.2" text-anchor="middle" fill="#1a1a1a" stroke="#1a1a1a" stroke-width="0.34" >100</text>
<text x="396.3" y="702.6" font-size="9.2" text-anchor="middle" fill="#1a1a1a" stroke="#1a1a1a" stroke-width="0.34" >77</text>
<text x="438.9" y="702.6" font-size="9.2" text-anchor="middle" fill="#1a1a1a" stroke="#1a1a1a" stroke-width="0.34" >100</text>
<text x="467.3" y="702.6" font-size="9.2" text-anchor="middle" fill="#1a1a1a" stroke="#1a1a1a" stroke-width="0.34" >81</text>
<rect x="0" y="1" width="520" height="1" fill="#000" opacity="0.3"/>
</svg>
<div class="frame"></div>
</body></html>
